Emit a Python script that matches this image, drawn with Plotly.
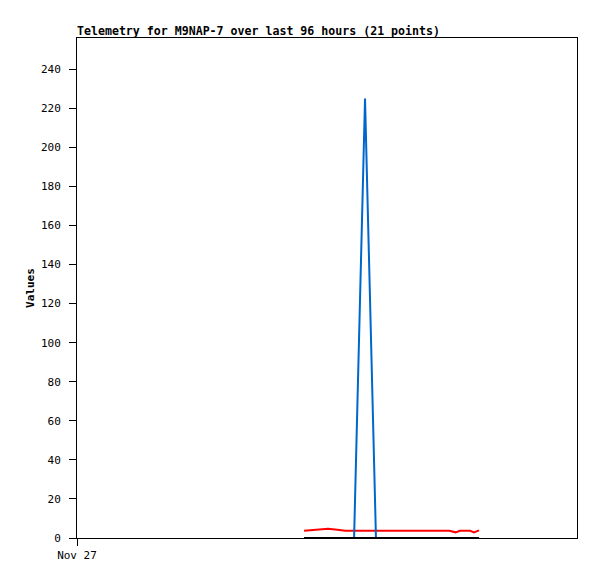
import plotly.graph_objects as go

# hours since start of window (96 h window)
hours = [43.6, 45.9, 48.2, 50.0, 51.5, 53.2, 55.3, 57.4, 59.5, 61.5, 63.5,
         65.5, 67.5, 69.5, 71.5, 72.7, 73.5, 74.6, 75.5, 76.2, 77.2]
red_vals = [3.7, 4.2, 4.7, 4.2, 3.7, 3.7, 3.7, 3.7, 3.7, 3.7, 3.7,
            3.7, 3.7, 3.7, 3.7, 2.9, 3.7, 3.7, 3.7, 2.9, 3.9]
blue_vals = [0, 0, 0, 0, 0, 0, 225, 0, 0, 0, 0,
             0, 0, 0, 0, 0, 0, 0, 0, 0, 0]
black_vals = [0] * 21

y_ticks = list(range(0, 241, 20))
x_tick_vals = [0]
x_tick_text = ["Nov 27"]

font_mono = "DejaVu Sans Mono, Liberation Mono, monospace"

# page body has an 8px default margin, so the figure is sized to compensate
W, H = 589, 571

fig = go.Figure()
fig.add_trace(go.Scatter(x=hours, y=red_vals, mode="lines",
                         line=dict(color="#FF0000", width=2), name="red"))
fig.add_trace(go.Scatter(x=hours, y=blue_vals, mode="lines",
                         line=dict(color="#0066CC", width=2), name="blue"))
fig.add_trace(go.Scatter(x=hours, y=black_vals, mode="lines",
                         line=dict(color="#000000", width=2), name="black"))

fig.update_layout(
    width=W, height=H,
    margin=dict(l=69, r=20, t=30, b=41, autoexpand=False),
    paper_bgcolor="white", plot_bgcolor="white",
    showlegend=False,
    font=dict(family=font_mono, size=11, color="black"),
    title=dict(text="<b>Telemetry for M9NAP-7 over last 96 hours (21 points)</b>",
               x=69 / W, xanchor="left", y=1 - 23 / H, yanchor="middle",
               font=dict(family=font_mono, size=11.6, color="black")),
)
fig.update_xaxes(range=[0, 96], tickvals=x_tick_vals, ticktext=x_tick_text,
                 showgrid=False, zeroline=False, showline=True, linecolor="black",
                 linewidth=1, mirror=True, ticks="outside", ticklen=7,
                 tickcolor="black", tickfont=dict(family=font_mono, size=11),
                 automargin=False)
fig.update_yaxes(range=[0, 256], tickvals=y_ticks, showgrid=False, zeroline=False,
                 showline=True, linecolor="black", linewidth=1, mirror=True,
                 ticks="outside", ticklen=7, tickcolor="black",
                 ticklabelstandoff=6,
                 title=dict(text="<b>Values</b>", standoff=4,
                            font=dict(family=font_mono, size=11)),
                 tickfont=dict(family=font_mono, size=11), automargin=False)

fig.write_html("out.html")
